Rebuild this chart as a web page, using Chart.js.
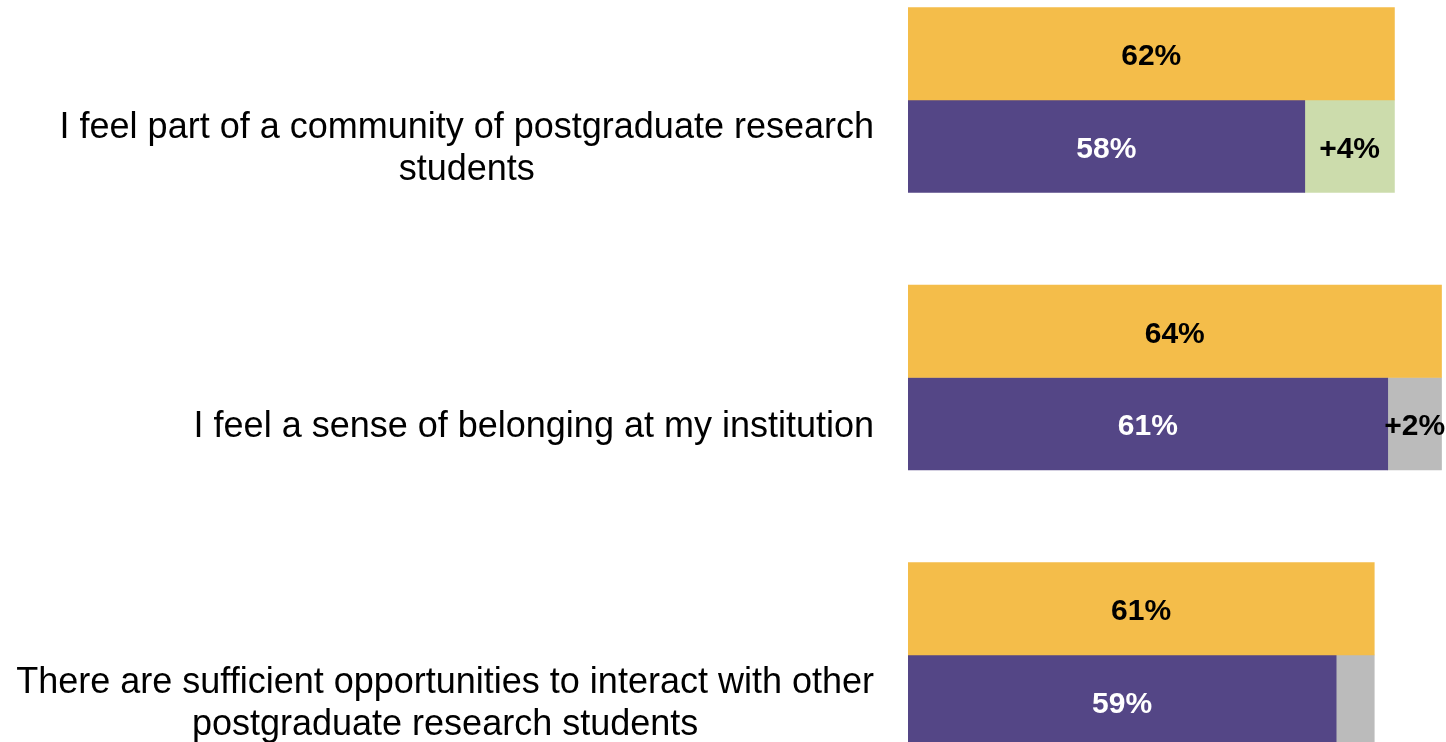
<!DOCTYPE html>
<html>
<head>
<meta charset="utf-8">
<script src="https://cdn.jsdelivr.net/npm/chart.js@4/dist/chart.umd.min.js"></script>
<style>
  html, body { margin: 0; padding: 0; background: #fff; }
  #wrap { width: 1446px; height: 742px; position: relative; }
</style>
</head>
<body>
<div id="wrap"><canvas id="belonging"></canvas></div>
<script>
// statements, one entry per row (lines as drawn)
const statements = [
    ['I feel part of a community of postgraduate research', 'students'],
    ['I feel a sense of belonging at my institution'],
    ['There are sufficient opportunities to interact with other', 'postgraduate research students']
];
// this year (top bar), last year (bottom bar) and the change on top of it
const thisYear = [61.7, 63.8, 60.8];
const lastYear = [57.7, 61.4, 59.1];
const change = [4.0, 2.4, 1.7];
const changeShown = [true, true, false];
const changeColours = ['#CCDCAC', '#BBBBBB', '#BBBBBB'];

const axisStart = 40;
const pct = v => Math.round(v) + '%';
// 'middle' sits a touch high for Arial-style caps
const textNudge = 3;

// value labels drawn in the middle of each bar
const barLabels = {
    id: 'barLabels',
    afterDatasetsDraw(chart) {
        const ctx = chart.ctx;
        ctx.save();
        ctx.font = 'bold 30px "Liberation Sans", Arial, sans-serif';
        ctx.textAlign = 'center';
        ctx.textBaseline = 'middle';
        chart.data.datasets.forEach((ds, i) => {
            chart.getDatasetMeta(i).data.forEach((bar, j) => {
                const text = ds.labelText(j);
                if (!text) return;
                ctx.fillStyle = ds.labelColour;
                ctx.fillText(text, (bar.x + bar.base) / 2, bar.y + textNudge);
            });
        });
        ctx.restore();
    }
};

// statement text to the left, right edge fixed, lines centred within each block
const statementLabels = {
    id: 'statementLabels',
    afterDraw(chart) {
        const ctx = chart.ctx;
        const right = 874;
        const lineHeight = 42;
        ctx.save();
        ctx.font = '36px "Liberation Sans", Arial, sans-serif';
        ctx.fillStyle = '#000';
        ctx.textAlign = 'center';
        ctx.textBaseline = 'middle';
        const rows = chart.getDatasetMeta(1).data;
        statements.forEach((lines, j) => {
            const widest = Math.max(...lines.map(l => ctx.measureText(l).width));
            const cx = right - widest / 2;
            const top = rows[j].y + textNudge - (lines.length - 1) * lineHeight / 2;
            lines.forEach((l, k) => ctx.fillText(l, cx, top + k * lineHeight));
        });
        ctx.restore();
    }
};

new Chart(document.getElementById('belonging'), {
    type: 'bar',
    data: {
        labels: statements,
        datasets: [{
            label: 'This year',
            data: thisYear,
            base: axisStart,
            backgroundColor: '#F4BD4A',
            stack: 'now',
            labelColour: '#000',
            labelText: j => pct(thisYear[j]),
        }, {
            label: 'Last year',
            data: lastYear,
            base: axisStart,
            backgroundColor: '#544686',
            stack: 'before',
            labelColour: '#fff',
            labelText: j => pct(lastYear[j]),
        }, {
            label: 'Change',
            data: change,
            backgroundColor: changeColours,
            stack: 'before',
            labelColour: '#000',
            labelText: j => changeShown[j] ? '+' + pct(change[j]) : '',
        }]
    },
    options: {
        indexAxis: 'y',
        responsive: true,
        maintainAspectRatio: false,
        animation: false,
        barThickness: 92.5,
        clip: { left: 0, top: false, right: false, bottom: false },
        layout: {
            padding: { left: 908, right: 0, top: 100, bottom: 87 }
        },
        scales: {
            x: {
                display: false,
                stacked: true,
                min: axisStart,
                max: 64,
            },
            y: {
                display: false,
                offset: false,
                grid: { offset: false },
            }
        },
        plugins: {
            legend: { display: false },
            tooltip: { enabled: false },
        }
    },
    plugins: [barLabels, statementLabels]
});
</script>
</body>
</html>
